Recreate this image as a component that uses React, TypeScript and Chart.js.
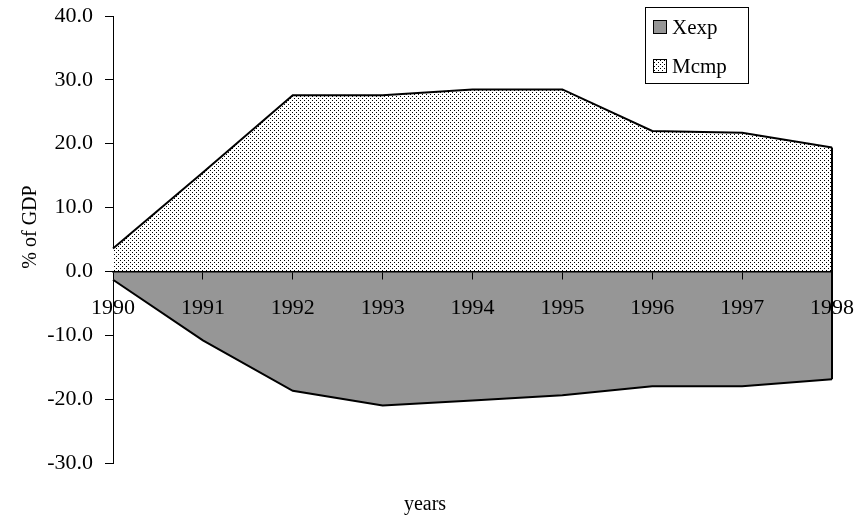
import React, { useEffect, useRef } from "react";
import { Chart, registerables } from "chart.js";

Chart.register(...registerables);

// ---- data ----
const years = ["1990", "1991", "1992", "1993", "1994", "1995", "1996", "1997", "1998"];
const xexpValues = [-1.3, -10.8, -18.7, -21.0, -20.2, -19.4, -18.0, -18.0, -16.9];
const mcmpValues = [3.6, 15.5, 27.6, 27.6, 28.5, 28.5, 22.0, 21.7, 19.4];
const seriesNames = ["Xexp", "Mcmp"];
const yMin = -30;
const yMax = 40;
const yStep = 10;
const yTitle = "% of GDP";
const xTitle = "years";

const FONT = "'Liberation Serif', 'Times New Roman', serif";

function makeDotPattern(): CanvasPattern | string {
  const c = document.createElement("canvas");
  c.width = 4;
  c.height = 4;
  const g = c.getContext("2d");
  if (!g) return "#ddd";
  g.fillStyle = "#ffffff";
  g.fillRect(0, 0, 4, 4);
  g.fillStyle = "#000000";
  g.fillRect(0, 0, 1, 1);
  g.fillRect(2, 2, 1, 1);
  const p = g.createPattern(c, "repeat");
  return p || "#ddd";
}

const edgePlugin = {
  id: "edgePlugin",
  afterDatasetsDraw(chart: any) {
    const ctx = chart.ctx;
    const yScale = chart.scales.y;
    const zero = yScale.getPixelForValue(0);
    ctx.save();
    ctx.strokeStyle = "#000";
    ctx.lineWidth = 2;
    chart.data.datasets.forEach((_: any, i: number) => {
      const meta = chart.getDatasetMeta(i);
      const pts = meta.data;
      if (!pts.length) return;
      const last = pts[pts.length - 1];
      ctx.beginPath();
      ctx.moveTo(last.x, last.y);
      ctx.lineTo(last.x, zero);
      ctx.stroke();
    });
    ctx.restore();
  },
};

const titlesPlugin = {
  id: "titles",
  afterDraw(chart: any) {
    const ctx = chart.ctx;
    ctx.save();
    ctx.fillStyle = "#000";
    ctx.font = `20px ${FONT}`;
    ctx.textAlign = "center";
    ctx.textBaseline = "middle";
    ctx.fillText(xTitle, chart.width / 2 - 4, chart.height - 14);
    ctx.translate(31, 227);
    ctx.rotate(-Math.PI / 2);
    ctx.fillText(yTitle, 0, 0);
    ctx.restore();
  },
};

const boxLegendPlugin = {
  id: "boxLegend",
  afterDraw(chart: any) {
    const ctx = chart.ctx;
    const left = 645;
    const top = 7;
    const width = 103;
    const height = 76;
    ctx.save();
    ctx.fillStyle = "#fff";
    ctx.fillRect(left, top, width, height);
    ctx.strokeStyle = "#000";
    ctx.lineWidth = 1;
    ctx.strokeRect(left + 0.5, top + 0.5, width, height);
    ctx.font = `21px ${FONT}`;
    ctx.textBaseline = "middle";
    ctx.textAlign = "left";
    chart.data.datasets.forEach((ds: any, i: number) => {
      const cy = top + 20 + i * 39;
      ctx.fillStyle = ds.backgroundColor;
      ctx.fillRect(left + 8, cy - 7, 14, 14);
      ctx.strokeStyle = "#000";
      ctx.strokeRect(left + 8.5, cy - 6.5, 13, 13);
      ctx.fillStyle = "#000";
      ctx.fillText(ds.label, left + 27, cy + 1);
    });
    ctx.restore();
  },
};

export default function App() {
  const ref = useRef<HTMLCanvasElement | null>(null);

  useEffect(() => {
    document.body.style.margin = "0";
    const canvas = ref.current;
    if (!canvas) return;
    const pattern = makeDotPattern();
    const chart = new Chart(canvas, {
      type: "line",
      data: {
        labels: years,
        datasets: [
          {
            label: seriesNames[0],
            data: xexpValues,
            fill: "origin",
            backgroundColor: "#969696",
            borderColor: "#000",
            borderWidth: 2,
            pointRadius: 0,
            tension: 0,
          },
          {
            label: seriesNames[1],
            data: mcmpValues,
            fill: "origin",
            backgroundColor: pattern as any,
            borderColor: "#000",
            borderWidth: 2,
            pointRadius: 0,
            tension: 0,
          },
        ],
      },
      options: {
        animation: false,
        responsive: false,
        devicePixelRatio: 1,
        layout: { padding: { left: 0, right: 26, top: 16, bottom: 56 } },
        plugins: {
          legend: { display: false },
          tooltip: { enabled: false },
        },
        scales: {
          x: {
            type: "category",
            position: { y: 0 } as any,
            offset: false,
            afterFit: (scale: any) => {
              scale.paddingLeft = 0;
              scale.paddingRight = 0;
            },
            grid: {
              drawOnChartArea: false,
              drawTicks: true,
              tickLength: 7,
              color: "#000",
              lineWidth: 1,
              z: 1,
            },
            border: { display: true, color: "#000", width: 1.5, z: 1 },
            ticks: {
              color: "#000",
              font: { family: FONT, size: 22 },
              padding: 17,
              maxRotation: 0,
              autoSkip: false,
              z: 1,
            },
          },
          y: {
            min: yMin,
            max: yMax,
            afterFit: (scale: any) => {
              scale.width = 113;
              scale.paddingTop = 8;
              scale.paddingBottom = 8;
            },
            grid: {
              drawOnChartArea: false,
              drawTicks: true,
              tickLength: 8,
              color: "#000",
              lineWidth: 1,
            },
            border: { display: true, color: "#000", width: 1 },
            ticks: {
              stepSize: yStep,
              color: "#000",
              font: { family: FONT, size: 22 },
              padding: 12,
              callback: (v: any) => Number(v).toFixed(1),
            },
          },
        },
      },
      plugins: [edgePlugin, titlesPlugin, boxLegendPlugin],
    });
    return () => chart.destroy();
  }, []);

  return (
    <div style={{ width: 858, height: 519 }}>
      <canvas ref={ref} width={858} height={519} style={{ display: "block" }} />
    </div>
  );
}
